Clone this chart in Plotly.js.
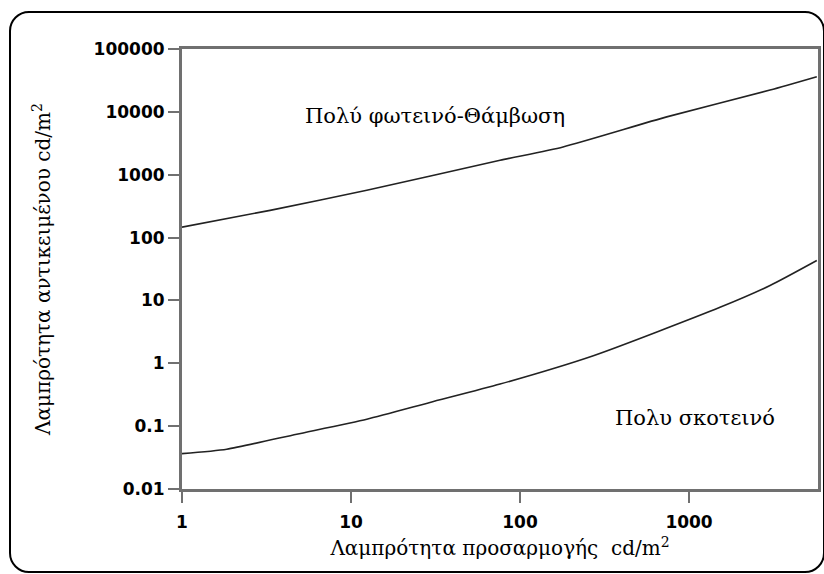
<!DOCTYPE html>
<html>
<head>
<meta charset="utf-8">
<script src="https://cdn.plot.ly/plotly-3.0.1.min.js"></script>
<style>
  html, body { margin: 0; padding: 0; background: #fff; }
  #wrap { position: relative; width: 824px; height: 574px; }
  #chart { width: 824px; height: 574px; }
  #frame { position: absolute; left: 9px; top: 11px; width: 812px; height: 558px;
           border: 2px solid #000; border-radius: 20px; pointer-events: none; }
</style>
</head>
<body>
<div id="wrap"><div id="chart"></div><div id="frame"></div></div>
<script>
// Adaptation luminance (cd/m²)
const glareX = [1, 3.32, 12.4, 76.2, 179.6, 738, 3015, 5700];
// Object luminance — upper limit (very bright / glare)
const glareY = [146.6, 271, 565, 1698, 2767, 8318, 22200, 36200];

const darkX = [1, 1.84, 4.77, 12.4, 29.3, 76.2, 271.5, 1525, 3015, 5700];
// Object luminance — lower limit (very dark)
const darkY = [0.0365, 0.043, 0.0745, 0.129, 0.238, 0.467, 1.32, 7.78, 17.3, 43.2];

const yTickVals = [0.01, 0.1, 1, 10, 100, 1000, 10000, 100000];
const yTickText = ["0.01", "0.1", "1", "10", "100", "1000", "10000", "100000"];
const xTickVals = [1, 10, 100, 1000];
const xTickText = ["1", "10", "100", "1000"];

const labelUpper = "Πολύ φωτεινό-Θάμβωση";
const labelLower = "Πολυ σκοτεινό";
const xTitle = "Λαμπρότητα προσαρμογής  cd/m<sup>2</sup>";
const yTitle = "Λαμπρότητα αντικειμένου cd/m<sup>2</sup>";

const lineStyle = { color: "#222", width: 1.6, shape: "spline", smoothing: 0.6 };
const traces = [
  { x: glareX, y: glareY, mode: "lines", line: lineStyle, hoverinfo: "skip", showlegend: false },
  { x: darkX, y: darkY, mode: "lines", line: lineStyle, hoverinfo: "skip", showlegend: false }
];

const serif = "DejaVu Serif, Liberation Serif, serif";
const tickFont = { family: "DejaVu Sans, sans-serif", size: 17, color: "#000", weight: "bold" };

const layout = {
  width: 824, height: 574,
  margin: { l: 182, r: 6, t: 49, b: 85 },
  paper_bgcolor: "#fff", plot_bgcolor: "#fff",
  showlegend: false,
  xaxis: {
    type: "log", range: [0, 3.763],
    tickmode: "array", tickvals: xTickVals, ticktext: xTickText,
    ticks: "outside", ticklen: 11, tickwidth: 2, tickcolor: "#707070",
    ticklabelstandoff: 5,
    showline: true, linecolor: "#707070", linewidth: 3, mirror: true,
    showgrid: false, zeroline: false,
    tickfont: tickFont,
    title: { text: xTitle, font: { family: serif, size: 20, color: "#000" }, standoff: 10 }
  },
  yaxis: {
    type: "log", range: [-2, 5],
    tickmode: "array", tickvals: yTickVals, ticktext: yTickText,
    ticks: "outside", ticklen: 11, tickwidth: 2, tickcolor: "#707070",
    showline: true, linecolor: "#707070", linewidth: 3, mirror: true,
    showgrid: false, zeroline: false,
    tickfont: tickFont,
    title: { text: yTitle, font: { family: serif, size: 20, color: "#000" }, standoff: 38 }
  },
  annotations: [
    { xref: "paper", yref: "paper", x: 0.398, y: 0.848, text: labelUpper, showarrow: false,
      font: { family: serif, size: 21, color: "#000" }, xanchor: "center", yanchor: "middle" },
    { xref: "paper", yref: "paper", x: 0.807, y: 0.161, text: labelLower, showarrow: false,
      font: { family: serif, size: 21, color: "#000" }, xanchor: "center", yanchor: "middle" }
  ]
};

Plotly.newPlot("chart", traces, layout, { staticPlot: true, displayModeBar: false });
</script>
</body>
</html>
